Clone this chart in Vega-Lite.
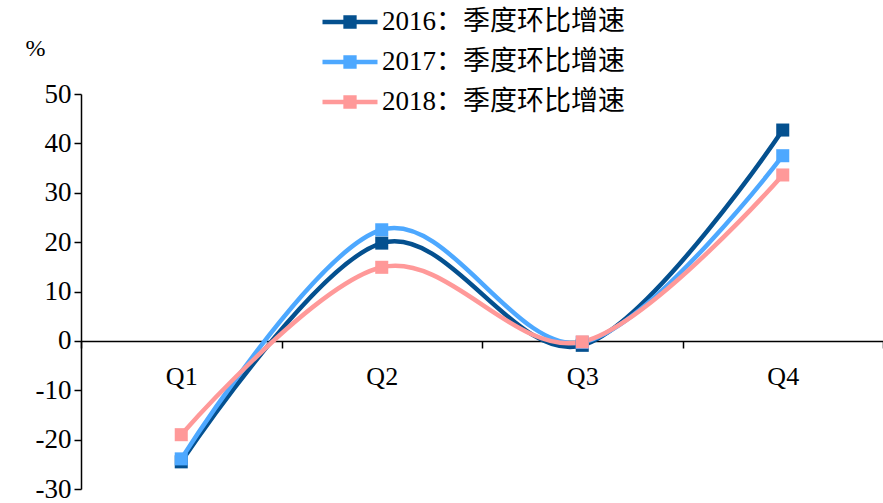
{
  "$schema": "https://vega.github.io/schema/vega-lite/v6.json",
  "width": 802,
  "height": 395,
  "autosize": {"type": "none"},
  "padding": {"left": 81, "top": 94, "right": 0, "bottom": 14},
  "background": "white",
  "config": {"view": {"stroke": null}, "font": "Liberation Serif, Noto Sans CJK SC"},
  "data": {
    "values": [
      {"s": "2016：季度环比增速", "q": "Q1", "v": -24.5},
      {"s": "2016：季度环比增速", "q": "Q2", "v": 19.8},
      {"s": "2016：季度环比增速", "q": "Q3", "v": -0.9},
      {"s": "2016：季度环比增速", "q": "Q4", "v": 42.7},
      {"s": "2017：季度环比增速", "q": "Q1", "v": -23.9},
      {"s": "2017：季度环比增速", "q": "Q2", "v": 22.5},
      {"s": "2017：季度环比增速", "q": "Q3", "v": -0.3},
      {"s": "2017：季度环比增速", "q": "Q4", "v": 37.5},
      {"s": "2018：季度环比增速", "q": "Q1", "v": -19.0},
      {"s": "2018：季度环比增速", "q": "Q2", "v": 14.9},
      {"s": "2018：季度环比增速", "q": "Q3", "v": -0.2},
      {"s": "2018：季度环比增速", "q": "Q4", "v": 33.6}
    ]
  },
  "encoding": {
    "x": {
      "field": "q", "type": "nominal", "sort": ["Q1", "Q2", "Q3", "Q4"],
      "scale": {"type": "band", "paddingInner": 0, "paddingOuter": 0},
      "axis": {
        "title": null, "offset": -148, "domainColor": "black", "domainWidth": 1.5,
        "tickBand": "extent", "tickSize": 7, "tickColor": "black", "tickWidth": 1.5,
        "labelAngle": 0, "labelFont": "Liberation Serif", "labelFontSize": 26, "labelColor": "black", "labelPadding": 15,
        "grid": false
      }
    },
    "y": {
      "field": "v", "type": "quantitative",
      "scale": {"domain": [-30, 50], "nice": false},
      "axis": {
        "title": "%", "titleAngle": 0, "titleX": -46, "titleY": -46,
        "titleAlign": "center", "titleBaseline": "middle", "titleFont": "Liberation Serif",
        "titleFontSize": 24, "titleFontWeight": "normal", "titleColor": "black",
        "values": [-30, -20, -10, 0, 10, 20, 30, 40, 50],
        "labelExpr": "replace(datum.label, '−', '-')",
        "tickSize": 7, "tickColor": "black", "tickWidth": 1.5,
        "domainColor": "black", "domainWidth": 1.5,
        "labelFont": "Liberation Serif", "labelFontSize": 27, "labelColor": "black", "labelPadding": 3, "grid": false
      }
    },
    "color": {
      "field": "s", "type": "nominal",
      "scale": {
        "domain": ["2016：季度环比增速", "2017：季度环比增速", "2018：季度环比增速"],
        "range": ["#04508F", "#4DA8FF", "#FF9999"]
      },
      "legend": {
        "orient": "none", "legendX": 239, "legendY": -92, "title": null,
        "symbolType": "M-1,0H1M-0.16,-0.16H0.16V0.16H-0.16Z",
        "symbolSize": 3025, "symbolStrokeWidth": 4.5,
        "labelFontSize": 27, "labelColor": "black", "labelFont": "Liberation Serif, Noto Sans CJK SC",
        "labelLimit": 0,
        "clipHeight": 40, "rowPadding": 0, "labelOffset": 2
      }
    }
  },
  "layer": [
    {"mark": {"type": "line", "interpolate": "cardinal", "tension": 0, "strokeWidth": 4.5}},
    {"mark": {"type": "point", "shape": "square", "filled": true, "opacity": 1, "size": 170}}
  ]
}
